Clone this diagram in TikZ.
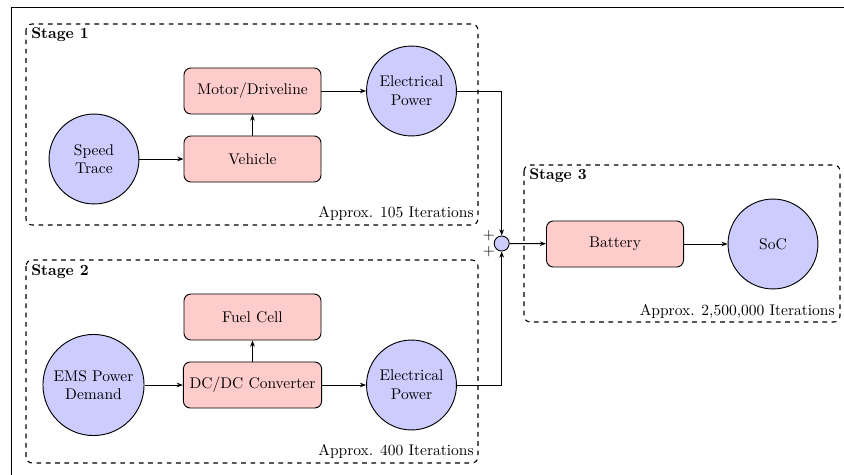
\documentclass[tikz,border=0pt]{standalone}
\usetikzlibrary{arrows.meta}
\begin{document}
\begin{tikzpicture}[x=0.645pt, y=-0.645pt,
  blk/.style={draw, fill=red!20, rounded corners=4.5pt, minimum width=88.4pt,
    minimum height=29.7pt, inner xsep=4pt, line width=0.6pt},
  sig/.style={draw, circle, fill=blue!20, minimum size=58pt, inner sep=1pt,
    align=center, line width=0.6pt},
  sumnode/.style={draw, circle, fill=blue!20, minimum size=9.7pt, inner sep=0pt,
    line width=0.6pt},
  stagebox/.style={draw, dashed, rounded corners=4pt, line width=0.7pt},
  conn/.style={-{Stealth[length=4pt,width=3pt]}, line width=0.6pt},
  stagelabel/.style={font=\bfseries, anchor=base west, inner sep=0pt},
  iterlabel/.style={anchor=base east, inner sep=0pt},
  plus/.style={inner sep=0pt}
]
\useasboundingbox (0,0) rectangle (844,475);

% outer frame
\draw[line width=0.9pt] (11.5,475) -- (11.5,7.5) -- (844,7.5);

% stage frames
\draw[stagebox] (26,24) rectangle (478,225);
\draw[stagebox] (26,260) rectangle (478,463);
\draw[stagebox] (524,165) rectangle (840,322);

\node[stagelabel] (l1) at (31,39) {Stage 1};
\node[stagelabel] (l2) at (31,276) {Stage 2};
\node[stagelabel] (l3) at (529,180) {Stage 3};

\node[iterlabel] (i1) at (474,218) {Approx. 105 Iterations};
\node[iterlabel] (i2) at (474,455) {Approx. 400 Iterations};
\node[iterlabel] (i3) at (835,315) {Approx. 2,500,000 Iterations};

% stage 1
\node[sig] (speed) at (94,159) {Speed\\Trace};
\node[blk] (vehicle) at (252.5,159) {Vehicle};
\node[blk] (motor) at (252.5,91) {Motor/Driveline};
\node[sig] (ep1) at (411.5,91) {Electrical\\Power};

% stage 2
\node[sig, minimum size=65.2pt] (ems) at (93.5,385) {EMS Power\\Demand};
\node[blk] (dcdc) at (252.5,385) {DC/DC Converter};
\node[blk] (fuel) at (252.5,317) {Fuel Cell};
\node[sig] (ep2) at (411.5,385) {Electrical\\Power};

% stage 3
\node[sumnode] (sum) at (501.7,243.5) {};
\node[plus] (p1) at (489,236) {$+$};
\node[plus] (p2) at (489,252) {$+$};
\node[blk] (battery) at (615,244) {Battery};
\node[sig] (soc) at (773,244) {SoC};

% connectors
\draw[conn] (speed) -- (vehicle);
\draw[conn] (vehicle) -- (motor);
\draw[conn] (motor) -- (ep1);
\draw[conn] (ems) -- (dcdc);
\draw[conn] (dcdc) -- (fuel);
\draw[conn] (dcdc) -- (ep2);
\draw[conn] (ep1) -| (sum);
\draw[conn] (ep2) -| (sum);
\draw[conn] (sum) -- (battery);
\draw[conn] (battery) -- (soc);
\end{tikzpicture}
\end{document}
